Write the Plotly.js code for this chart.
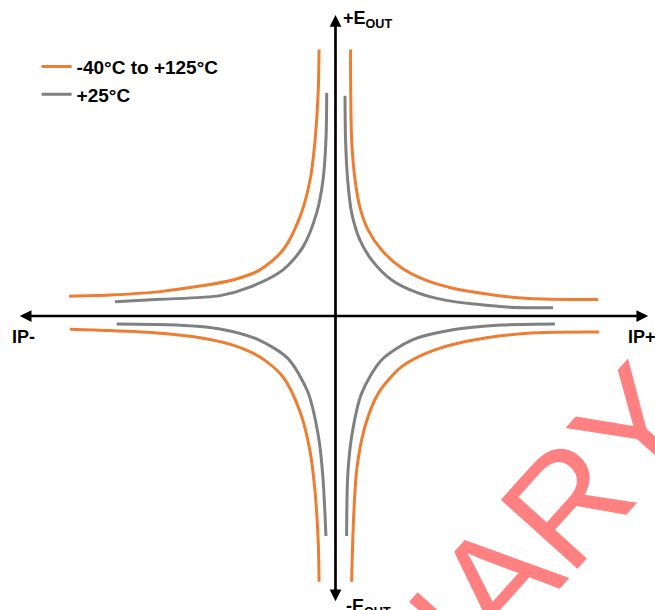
<!DOCTYPE html>
<html>
<head>
<meta charset="utf-8">
<script src="https://cdn.plot.ly/plotly-3.0.1.min.js"></script>
<style>
  html, body { margin: 0; padding: 0; background: #fff; }
  #chart { width: 655px; height: 610px; }
</style>
</head>
<body>
<div id="chart"></div>
<script>
// Output error vs. primary current, normalized units (IP on x, EOUT on y).
// "hot" = -40°C to +125°C band, "room" = +25°C band.

// Quadrant I (IP+, +EOUT)
const hotQ1Ip  = [0.57, 0.57, 0.61, 0.74, 0.92, 1.23, 1.74, 2.50, 3.38, 4.38, 5.45, 6.58, 7.83, 9.91];
const hotQ1Err = [10.06, 9.17, 6.64, 5.13, 4.11, 3.25, 2.49, 1.81, 1.36, 1.06, 0.87, 0.72, 0.64, 0.62];
const roomQ1Ip  = [0.36, 0.38, 0.46, 0.61, 0.92, 1.37, 2.12, 3.11, 4.13, 5.26, 6.58, 8.21];
const roomQ1Err = [8.31, 6.64, 5.13, 3.89, 2.87, 2.11, 1.36, 0.87, 0.60, 0.45, 0.33, 0.31];

// Quadrant II (IP-, +EOUT)
const hotQ2Ip  = [-0.62, -0.65, -0.77, -0.96, -1.34, -1.98, -2.85, -3.87, -5.11, -6.62, -8.51, -10.05];
const hotQ2Err = [10.06, 8.53, 6.64, 5.13, 3.74, 2.49, 1.74, 1.36, 1.13, 0.92, 0.79, 0.75];
const roomQ2Ip  = [-0.33, -0.36, -0.47, -0.71, -1.23, -1.98, -3.23, -4.36, -6.62, -8.32];
const roomQ2Err = [8.42, 6.64, 5.13, 3.89, 2.60, 1.74, 1.09, 0.77, 0.63, 0.54];

// Quadrant III (IP-, -EOUT)
const hotQ3Ip  = [-10.02, -8.51, -6.62, -5.11, -3.87, -2.85, -1.98, -1.34, -0.96, -0.77, -0.65, -0.62];
const hotQ3Err = [-0.50, -0.55, -0.65, -0.82, -1.10, -1.55, -2.30, -3.60, -5.10, -6.64, -8.53, -10.03];
const roomQ3Ip  = [-8.26, -5.99, -4.36, -2.90, -1.80, -1.05, -0.65, -0.48, -0.36];
const roomQ3Err = [-0.30, -0.34, -0.49, -0.90, -1.60, -2.85, -4.50, -6.00, -8.30];

// Quadrant IV (IP+, -EOUT)
const hotQ4Ip  = [9.95, 7.53, 5.64, 3.75, 2.50, 1.62, 1.11, 0.80, 0.67, 0.61];
const hotQ4Err = [-0.60, -0.63, -0.83, -1.28, -1.91, -2.91, -4.18, -5.81, -7.95, -10.03];
const roomQ4Ip  = [8.28, 6.27, 4.38, 2.88, 1.74, 0.99, 0.61, 0.46, 0.42];
const roomQ4Err = [-0.30, -0.34, -0.53, -0.91, -1.66, -2.91, -4.55, -6.06, -8.30];

const seriesNames = ['-40°C to +125°C', '+25°C'];
const seriesColors = ['#ED7D31', '#808080'];

// Axis extents (arrow tips)
const ipAxisMin = -11.97, ipAxisMax = 11.80;
const errAxisMin = -10.82, errAxisMax = 11.36;

const FONT = 'Liberation Sans, Arial, Helvetica, sans-serif';

function curve(x, y, idx, show) {
  return {
    x: x, y: y, type: 'scatter', mode: 'lines',
    name: seriesNames[idx], legendgroup: 'g' + idx, showlegend: show,
    line: { color: seriesColors[idx], width: 3, shape: 'spline', smoothing: 0.8 },
    hoverinfo: 'skip'
  };
}

const traces = [
  curve(hotQ1Ip, hotQ1Err, 0, true),
  curve(hotQ2Ip, hotQ2Err, 0, false),
  curve(hotQ3Ip, hotQ3Err, 0, false),
  curve(hotQ4Ip, hotQ4Err, 0, false),
  curve(roomQ1Ip, roomQ1Err, 1, true),
  curve(roomQ2Ip, roomQ2Err, 1, false),
  curve(roomQ3Ip, roomQ3Err, 1, false),
  curve(roomQ4Ip, roomQ4Err, 1, false)
];

const labelFont = { family: FONT, size: 18, color: '#000', weight: 'bold' };

const layout = {
  width: 655, height: 610,
  margin: { l: 0, r: 0, t: 0, b: 0 },
  paper_bgcolor: '#fff', plot_bgcolor: '#fff',
  xaxis: { range: [-12.66, 12.057], visible: false, fixedrange: true },
  yaxis: { range: [-11.094, 11.925], visible: false, fixedrange: true },
  showlegend: true,
  legend: {
    x: 0.0559, y: 0.9217, xanchor: 'left', yanchor: 'top',
    bgcolor: 'rgba(0,0,0,0)', borderwidth: 0,
    font: { family: FONT, size: 19, color: '#000', weight: 'bold' },
    tracegroupgap: 0
  },
  annotations: [
    // horizontal axis with arrowheads on both ends
    { xref: 'x', yref: 'y', axref: 'x', ayref: 'y',
      x: ipAxisMax, y: 0, ax: ipAxisMin, ay: 0, text: '',
      showarrow: true, arrowside: 'end+start', arrowhead: 2, startarrowhead: 2,
      arrowsize: 0.87, startarrowsize: 0.87, arrowwidth: 2.7, arrowcolor: '#000', standoff: 0, startstandoff: 0 },
    // vertical axis
    { xref: 'x', yref: 'y', axref: 'x', ayref: 'y',
      x: 0, y: errAxisMax, ax: 0, ay: errAxisMin, text: '',
      showarrow: true, arrowside: 'end+start', arrowhead: 2, startarrowhead: 2,
      arrowsize: 0.87, startarrowsize: 0.87, arrowwidth: 2.7, arrowcolor: '#000', standoff: 0, startstandoff: 0 },
    { xref: 'paper', yref: 'paper', x: 341 / 655, y: 1 - 6 / 610, xanchor: 'left', yanchor: 'top',
      text: '+E<sub>OUT</sub>', showarrow: false, font: labelFont },
    { xref: 'paper', yref: 'paper', x: 344 / 655, y: 1 - 594 / 610, xanchor: 'left', yanchor: 'top',
      text: '-E<sub>OUT</sub>', showarrow: false, font: labelFont },
    { xref: 'paper', yref: 'paper', x: 10 / 655, y: 1 - 325 / 610, xanchor: 'left', yanchor: 'top',
      text: 'IP-', showarrow: false, font: labelFont },
    { xref: 'paper', yref: 'paper', x: 626 / 655, y: 1 - 325 / 610, xanchor: 'left', yanchor: 'top',
      text: 'IP+', showarrow: false, font: labelFont },
    // watermark
    { xref: 'paper', yref: 'paper', x: 0.5026, y: -0.2577, xanchor: 'center', yanchor: 'middle',
      text: 'PRELIMINARY', showarrow: false, textangle: -48,
      font: { family: FONT, size: 150, color: '#FF8080' } }
  ]
};

Plotly.newPlot('chart', traces, layout, { staticPlot: true, displayModeBar: false });
</script>
</body>
</html>
